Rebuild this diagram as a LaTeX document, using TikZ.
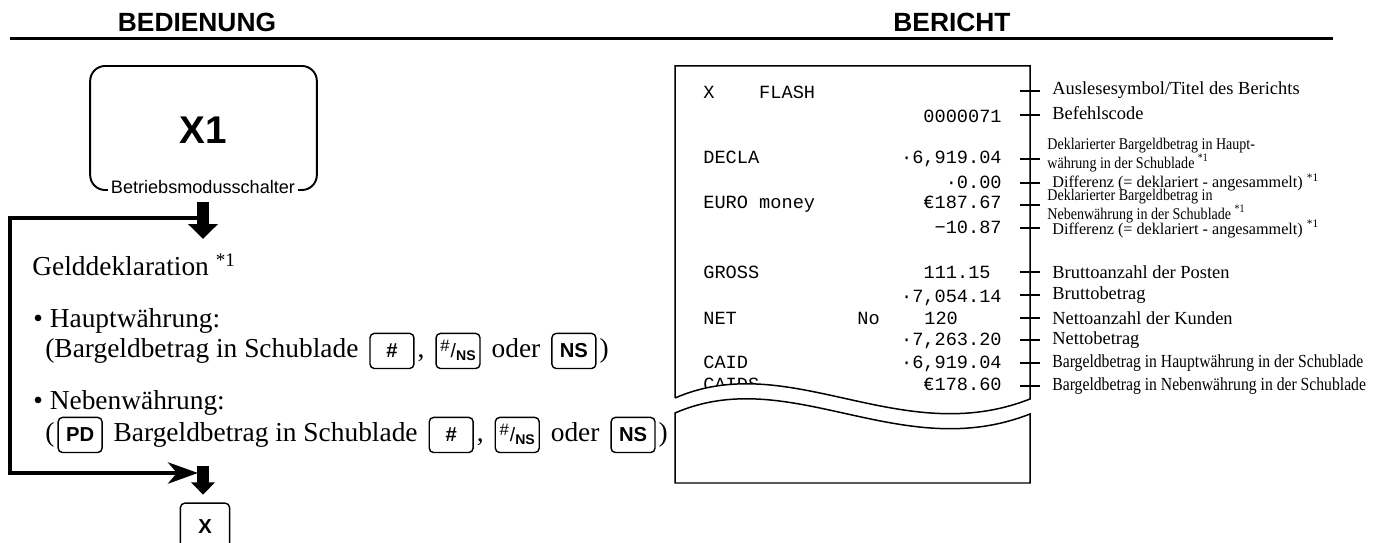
\documentclass[tikz,border=0pt]{standalone}
\usepackage{fontspec}
\setmainfont{Liberation Serif}
\setsansfont{Liberation Sans}
\setmonofont{Liberation Mono}
\usepackage{graphicx}
\usetikzlibrary{positioning,arrows.meta}
\newcommand{\nsbruch}{{\fontsize{9.5}{9.5}\selectfont\mdseries\raisebox{0.4em}{\#}}\kern0.05em{\fontsize{11}{11}\selectfont\mdseries/}\kern0em{\fontsize{8}{8}\selectfont\raisebox{-0.2em}{NS}}}
\begin{document}
\begin{tikzpicture}[x=0.02cm,y=-0.02cm,
  kopf/.style={font=\fontsize{15}{15}\selectfont\sffamily\bfseries},
  txt/.style={inner sep=0pt,anchor=base west,font=\fontsize{15.6}{16}\selectfont},
  taste/.style={draw,line width=0.8pt,rounded corners=2.5pt,minimum width=25pt,minimum height=20pt,
    text height=8pt,text depth=0pt,inner sep=0pt,font=\fontsize{11.5}{11.5}\selectfont\sffamily\bfseries},
  bon/.style={inner sep=0pt,font=\fontsize{10.6}{10.6}\selectfont\ttfamily},
  erkl/.style={inner sep=0pt,anchor=west,align=left,font=\fontsize{10.5}{11}\selectfont},
  dickpfeil/.style={line width=6.3pt,-{Triangle[length=8.5pt,width=16.5pt]}},
  schleife/.style={line width=2.8pt,-{Stealth[length=17pt,width=12pt,inset=5pt]}}]
\clip (0,0) rectangle (1386,543);
\node[kopf] (bedienung) at (197,22) {BEDIENUNG};
\node[kopf] (bericht) at (952,22) {BERICHT};
\draw[line width=1.4pt] (10,38.5) -- (1333,38.5);
\node[draw,line width=1.1pt,rounded corners=8.5pt,minimum width=129pt,minimum height=70.6pt] (schalter) at (203.5,128) {};
\node[font=\fontsize{22}{22}\selectfont\sffamily\bfseries] (xeins) at (203,130) {X1};
\node[fill=white,inner sep=1.5pt,font=\fontsize{10.3}{10.3}\selectfont\sffamily] (modus) at (203,187) {Betriebsmodusschalter};
\coordinate (k1) at (203,218);
\coordinate (e1) at (10,218);
\coordinate (e2) at (10,473);
\coordinate (k2) at (198,473);
\coordinate (a2) at (203,239);
\draw[schleife] (k1) -- (e1) -- (e2) -- (k2);
\draw[dickpfeil] ([yshift=-3pt]modus.south) -- (a2);
\node[txt] (geld) at (32,276) {Gelddeklaration \textsuperscript{*1}};
\node[txt] (haupt) at (33,328) {• Hauptwährung:};
\node[txt] (z1a) at (45,358) {(Bargeldbetrag in Schublade};
\node[taste,base right=6pt of z1a] (z1k1) {\#};
\node[txt,base right=1.5pt of z1k1] (z1b) {,};
\node[taste,base right=6pt of z1b] (z1k2) {\nsbruch};
\node[txt,base right=6pt of z1k2] (z1c) {oder};
\node[taste,base right=6pt of z1c] (z1k3) {NS};
\node[txt,base right=1.5pt of z1k3] (z1d) {)};
\node[txt] (neben) at (33,410) {• Nebenwährung:};
\node[txt] (z2a) at (45,442) {(};
\node[taste,base right=1.5pt of z2a] (z2k0) {PD};
\node[txt,base right=6pt of z2k0] (z2b) {Bargeldbetrag in Schublade};
\node[taste,base right=6pt of z2b] (z2k1) {\#};
\node[txt,base right=1.5pt of z2k1] (z2c) {,};
\node[taste,base right=6pt of z2c] (z2k2) {\nsbruch};
\node[txt,base right=6pt of z2k2] (z2d) {oder};
\node[taste,base right=6pt of z2d] (z2k3) {NS};
\node[txt,base right=1.5pt of z2k3] (z2e) {)};
\node[taste,minimum width=28pt,minimum height=26pt] (xtaste) at (205,526) {X};
\coordinate (a3) at (203,466);
\draw[line width=6.3pt,-{Triangle[length=7pt,width=13.5pt]},shorten >=4.5pt] (a3) -- (a3 |- xtaste.north);
\node[bon,anchor=base west] (r1) at (703,99) {X\ \ \ \ FLASH};
\node[bon,anchor=base east] (r2) at (1002,123) {0000071};
\node[bon,anchor=base west] (r3) at (703,164) {DECLA};
\node[bon,anchor=base east] (r3b) at (1002,164) {·6,919.04};
\node[bon,anchor=base east] (r4) at (1002,189) {·0.00};
\node[bon,anchor=base west] (r5) at (703,209) {EURO money};
\node[bon,anchor=base east] (r5b) at (1002,209) {€187.67};
\node[bon,anchor=base east] (r6) at (1002,234) {−10.87};
\node[bon,anchor=base west] (r7) at (703,279) {GROSS};
\node[bon,anchor=base east] (r7b) at (991,279) {111.15};
\node[bon,anchor=base east] (r8) at (1002,303) {·7,054.14};
\node[bon,anchor=base west] (r9) at (703,325) {NET};
\node[bon,anchor=base west] (r9b) at (857,325) {No};
\node[bon,anchor=base west] (r9c) at (924,325) {120};
\node[bon,anchor=base east] (r10) at (1002,346) {·7,263.20};
\node[bon,anchor=base west] (r11) at (703,369) {CAID};
\node[bon,anchor=base east] (r11b) at (1002,369) {·6,919.04};
\node[bon,anchor=base west] (r12) at (703,391) {CAIDS};
\node[bon,anchor=base east] (r12b) at (1002,391) {€178.60};
\fill[white] (675,398) .. controls (790,348) and (900,450) .. (1030,399) -- (1030,414) .. controls (900,465) and (790,363) .. (675,413) -- cycle;
\draw[line width=0.85pt] (675,398) -- (675,66) -- (1030,66) -- (1030,399) .. controls (900,450) and (790,348) .. (675,398);
\draw[line width=0.85pt] (675,413) .. controls (790,363) and (900,465) .. (1030,414) -- (1030,483) -- (675,483) -- cycle;
\foreach \y in {91,115,159,183,205,228,272,295,318,340,363,386}
  \draw[line width=0.6pt] (1020,\y) -- (1040,\y);
\node[erkl] (b1) at (1052,90) {Auslesesymbol/Titel des Berichts};
\node[erkl] (b2) at (1052,113) {Befehlscode};
\node[erkl,font=\fontsize{9.3}{9.4}\selectfont] (b3) at (1047,155) {\scalebox{0.86}[1]{Deklarierter Bargeldbetrag in Haupt-}\\\scalebox{0.86}[1]{währung in der Schublade \textsuperscript{*1}}};
\node[erkl,font=\fontsize{9.3}{9.3}\selectfont] (b4) at (1052,182.5) {\scalebox{0.99}[1]{Differenz (= deklariert - angesammelt) \textsuperscript{*1}}};
\node[erkl,font=\fontsize{9.3}{8.6}\selectfont] (b5) at (1047,206) {\scalebox{0.86}[1]{Deklarierter Bargeldbetrag in}\\\scalebox{0.86}[1]{Nebenwährung in der Schublade \textsuperscript{*1}}};
\node[erkl,font=\fontsize{9.3}{9.3}\selectfont] (b6) at (1052,229) {\scalebox{0.99}[1]{Differenz (= deklariert - angesammelt) \textsuperscript{*1}}};
\node[erkl] (b7) at (1052,272) {Bruttoanzahl der Posten};
\node[erkl] (b8) at (1052,295) {Bruttobetrag};
\node[erkl] (b9) at (1052,318) {Nettoanzahl der Kunden};
\node[erkl] (b10) at (1052,340) {Nettobetrag};
\node[erkl] (b11) at (1052,363) {\scalebox{0.85}[1]{Bargeldbetrag in Hauptwährung in der Schublade}};
\node[erkl] (b12) at (1052,386) {\scalebox{0.85}[1]{Bargeldbetrag in Nebenwährung in der Schublade}};
\end{tikzpicture}
\end{document}
